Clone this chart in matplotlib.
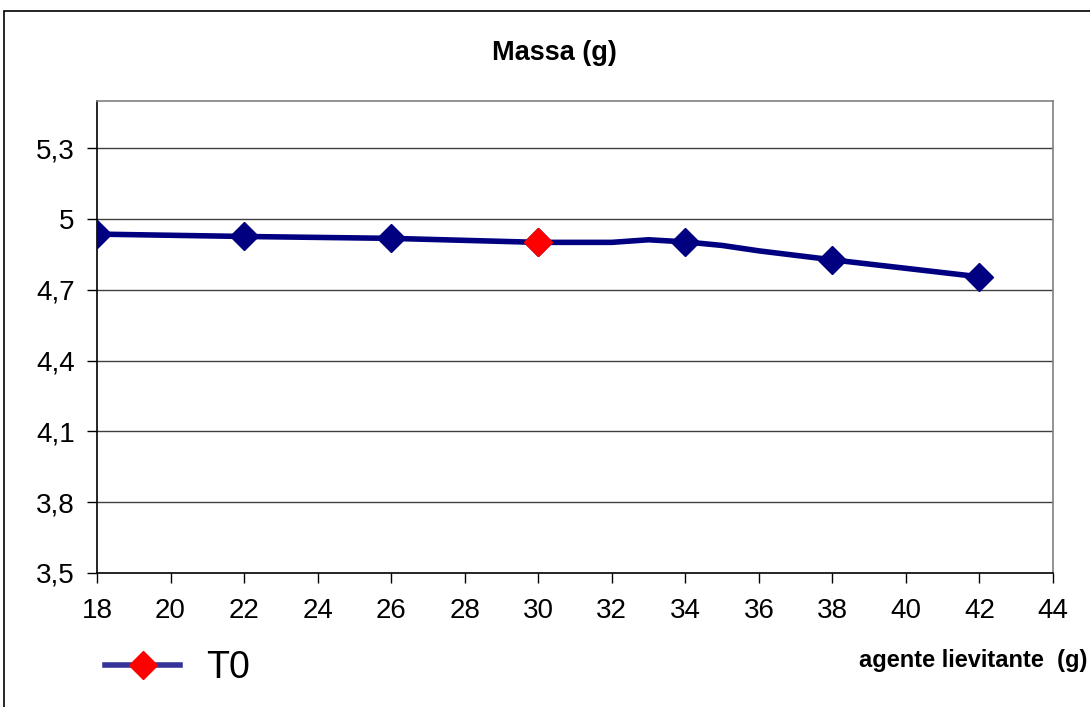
import matplotlib
matplotlib.use('Agg')
import matplotlib.pyplot as plt
from matplotlib.lines import Line2D
from matplotlib.patches import Rectangle

plt.rcParams['font.family'] = ['Liberation Sans', 'DejaVu Sans']

# Data
agente = [18, 22, 26, 30, 32, 33, 34, 35, 36, 38, 42]
massa = [4.936, 4.926, 4.918, 4.901, 4.901, 4.912, 4.903, 4.888, 4.865, 4.827, 4.755]
punti = [18, 22, 26, 30, 34, 38, 42]      # points with a marker
evidenziato = 30                            # highlighted (red) point
x_ticks = list(range(18, 46, 2))
y_ticks = [3.5, 3.8, 4.1, 4.4, 4.7, 5.0, 5.3]
y_labels = ['3,5', '3,8', '4,1', '4,4', '4,7', '5', '5,3']

W, H = 1090, 707
fig = plt.figure(figsize=(W / 100, H / 100), dpi=100)
ax = fig.add_axes([97 / W, 1 - 573 / H, (1053 - 97) / W, (573 - 101) / H])

idx = [agente.index(p) for p in punti]
ax.plot(agente, massa, color='#000080', lw=4, marker='D', ms=14,
        markevery=idx, mfc='#000080', mec='#000080', zorder=3,
        solid_joinstyle='round')
i_red = agente.index(evidenziato)
ax.plot([agente[i_red]], [massa[i_red]], ls='none', marker='D', ms=14,
        mfc='red', mec='red', zorder=4)

ax.set_xlim(18, 44)
ax.set_ylim(3.5, 5.5)
ax.set_xticks(x_ticks)
ax.set_xticklabels([str(t) for t in x_ticks])
ax.set_yticks(y_ticks)
ax.set_yticklabels(y_labels)
ax.tick_params(axis='both', labelsize=20, direction='out', length=7, width=1, color='black')
ax.tick_params(axis='x', pad=11)
ax.tick_params(axis='y', pad=9)

for y in y_ticks[1:]:
    ax.axhline(y, color='#404040', lw=1, zorder=1)

ax.spines['left'].set_color('black')
ax.spines['bottom'].set_color('black')
ax.spines['top'].set_color('#808080')
ax.spines['right'].set_color('#808080')
for s in ax.spines.values():
    s.set_linewidth(1.2)

fig.text(554 / W, 1 - 53 / H, 'Massa (g)', ha='center', va='center',
         fontsize=19.5, fontweight='bold')
fig.text(1087 / W, 1 - 661 / H, 'agente lievitante  (g)', ha='right', va='center',
         fontsize=17, fontweight='bold')

proxy = Line2D([], [], color='#333399', lw=4, marker='D', ms=14,
               mfc='red', mec='red')
fig.legend(handles=[proxy], labels=['T0'], loc='center left',
           bbox_to_anchor=(105 / W, 1 - 668 / H), frameon=False,
           fontsize=27, handlelength=2.0, handletextpad=0.7,
           borderpad=0, borderaxespad=0)

# outer chart border (partly cut off in the reference)
fig.add_artist(Rectangle((4 / W, -0.05), 1.2, (H - 11) / H + 0.05,
                         transform=fig.transFigure, fill=False,
                         edgecolor='black', lw=1.2))

fig.savefig('out.png', dpi=100)
